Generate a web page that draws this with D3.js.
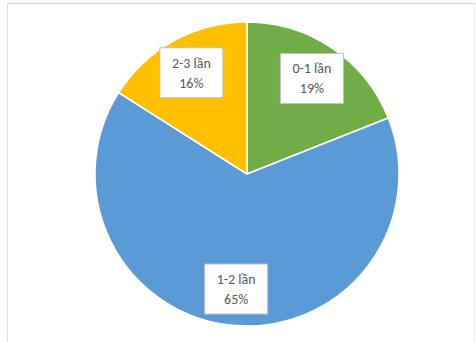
<!DOCTYPE html>
<html>
<head>
<meta charset="utf-8">
<script src="https://cdn.jsdelivr.net/npm/d3@7/dist/d3.min.js"></script>
<style>
  html, body { margin: 0; padding: 0; background: #fff; }
  svg { display: block; }
</style>
</head>
<body>
<svg id="chart" width="476" height="342"></svg>
<script>
// Survey answers: how often, share of respondents
const categories = ["0-1 lần", "1-2 lần", "2-3 lần"];
const shares = [19, 65, 16];
const colors = ["#70AD47", "#5B9BD5", "#FFC000"];

const svg = d3.select("#chart");
const W = 476, H = 342;

// chart frame
svg.append("rect").attr("x", 0).attr("y", 0).attr("width", W).attr("height", H).attr("fill", "#fff");
svg.append("line").attr("x1", 7.5).attr("x2", 7.5).attr("y1", 3).attr("y2", H)
  .attr("stroke", "#dcdcdc").attr("stroke-width", 1);
svg.append("line").attr("x1", 7).attr("x2", W).attr("y1", 3.5).attr("y2", 3.5)
  .attr("stroke", "#d6d6d6").attr("stroke-width", 1);
svg.append("line").attr("x1", W - 1.5).attr("x2", W - 1.5).attr("y1", 3).attr("y2", H)
  .attr("stroke", "#eeeeee").attr("stroke-width", 1);

const cx = 247, cy = 174, r = 152;

const data = categories.map((c, i) => ({ name: c, value: shares[i], color: colors[i] }));
const pie = d3.pie().sort(null).value(d => d.value);
const arcs = pie(data);
const arc = d3.arc().innerRadius(0).outerRadius(r);

const g = svg.append("g").attr("transform", `translate(${cx},${cy})`);
g.selectAll("path").data(arcs).join("path")
  .attr("d", arc)
  .attr("fill", d => d.data.color)
  .attr("stroke", "#fff")
  .attr("stroke-width", 1.5)
  .attr("stroke-linejoin", "round");

// data labels in white boxes
const labelArc = d3.arc().innerRadius(r * 0.76).outerRadius(r * 0.76);
const boxW = 63, boxH = 50;
const labels = g.selectAll("g.lbl").data(arcs).join("g")
  .attr("class", "lbl")
  .attr("transform", d => {
    const [x, y] = labelArc.centroid(d);
    return `translate(${x},${y})`;
  });
labels.append("rect")
  .attr("x", -boxW / 2).attr("y", -boxH / 2)
  .attr("width", boxW).attr("height", boxH)
  .attr("fill", "#fff").attr("stroke", "#bfbfbf").attr("stroke-width", 1);
labels.append("text")
  .attr("text-anchor", "middle")
  .attr("y", -5)
  .attr("font-family", "Calibri, Carlito, 'Liberation Sans', sans-serif")
  .attr("font-size", 14)
  .attr("fill", "#595959")
  .text(d => d.data.name);
labels.append("text")
  .attr("text-anchor", "middle")
  .attr("y", 15)
  .attr("font-family", "Calibri, Carlito, 'Liberation Sans', sans-serif")
  .attr("font-size", 14)
  .attr("fill", "#595959")
  .text(d => d.data.value + "%");
</script>
</body>
</html>
